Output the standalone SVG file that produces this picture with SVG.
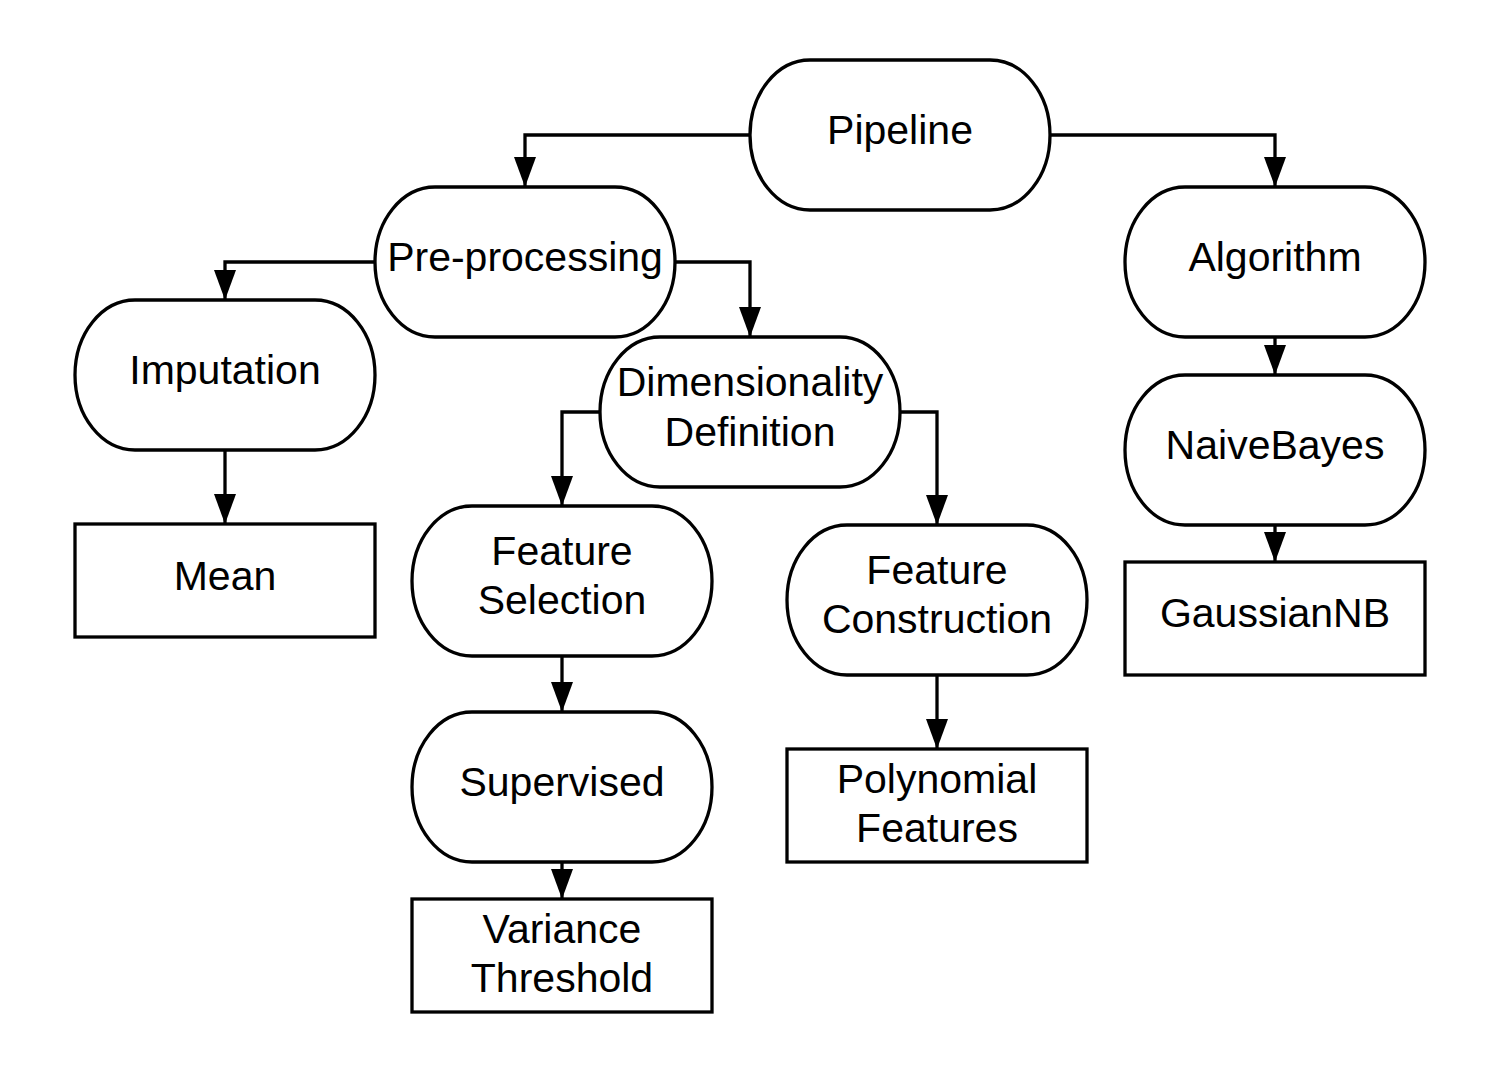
<svg xmlns="http://www.w3.org/2000/svg" width="1500" height="1088" viewBox="0 0 1500 1088">
<style>
.n{fill:#fff;stroke:#000;stroke-width:3.3}
.t{font-family:"Liberation Sans",Arial,sans-serif;font-size:41px;text-anchor:middle;fill:#000}
.c{fill:none;stroke:#000;stroke-width:3.3}
</style>
<defs>
<marker id="a" viewBox="0 0 30 22" refX="30" refY="11" markerWidth="30" markerHeight="22" markerUnits="userSpaceOnUse" orient="auto">
<path d="M0,0 L30,11 L0,22 Z" fill="#000"/>
</marker>
</defs>
<rect width="1500" height="1088" fill="#fff"/>
<g id="connectors">
<path class="c" d="M750,135 H525 V187" marker-end="url(#a)"/>
<path class="c" d="M1050,135 H1275 V187" marker-end="url(#a)"/>
<path class="c" d="M375,262 H225 V300" marker-end="url(#a)"/>
<path class="c" d="M675,262 H750 V337" marker-end="url(#a)"/>
<path class="c" d="M225,450 V524" marker-end="url(#a)"/>
<path class="c" d="M600,412 H562 V506" marker-end="url(#a)"/>
<path class="c" d="M900,412 H937 V525" marker-end="url(#a)"/>
<path class="c" d="M1275,337 V375" marker-end="url(#a)"/>
<path class="c" d="M1275,525 V562" marker-end="url(#a)"/>
<path class="c" d="M562,656 V712" marker-end="url(#a)"/>
<path class="c" d="M937,675 V749" marker-end="url(#a)"/>
<path class="c" d="M562,862 V899" marker-end="url(#a)"/>
</g>
<g id="pipeline"><rect class="n" x="750" y="60" width="300" height="150" rx="60" ry="75"/><text class="t" x="900" y="144">Pipeline</text></g>
<g id="preprocessing"><rect class="n" x="375" y="187" width="300" height="150" rx="60" ry="75"/><text class="t" x="525" y="271">Pre-processing</text></g>
<g id="algorithm"><rect class="n" x="1125" y="187" width="300" height="150" rx="60" ry="75"/><text class="t" x="1275" y="271">Algorithm</text></g>
<g id="imputation"><rect class="n" x="75" y="300" width="300" height="150" rx="60" ry="75"/><text class="t" x="225" y="384">Imputation</text></g>
<g id="dimensionality"><rect class="n" x="600" y="337" width="300" height="150" rx="60" ry="75"/><text class="t" x="750" y="396">Dimensionality</text><text class="t" x="750" y="446">Definition</text></g>
<g id="naivebayes"><rect class="n" x="1125" y="375" width="300" height="150" rx="60" ry="75"/><text class="t" x="1275" y="459">NaiveBayes</text></g>
<g id="mean"><rect class="n" x="75" y="524" width="300" height="113"/><text class="t" x="225" y="590">Mean</text></g>
<g id="featureselection"><rect class="n" x="412" y="506" width="300" height="150" rx="60" ry="75"/><text class="t" x="562" y="565">Feature</text><text class="t" x="562" y="614">Selection</text></g>
<g id="featureconstruction"><rect class="n" x="787" y="525" width="300" height="150" rx="60" ry="75"/><text class="t" x="937" y="584">Feature</text><text class="t" x="937" y="633">Construction</text></g>
<g id="gaussiannb"><rect class="n" x="1125" y="562" width="300" height="113"/><text class="t" x="1275" y="627">GaussianNB</text></g>
<g id="supervised"><rect class="n" x="412" y="712" width="300" height="150" rx="60" ry="75"/><text class="t" x="562" y="796">Supervised</text></g>
<g id="polynomial"><rect class="n" x="787" y="749" width="300" height="113"/><text class="t" x="937" y="793">Polynomial</text><text class="t" x="937" y="842">Features</text></g>
<g id="variance"><rect class="n" x="412" y="899" width="300" height="113"/><text class="t" x="562" y="943">Variance</text><text class="t" x="562" y="992">Threshold</text></g>
</svg>
